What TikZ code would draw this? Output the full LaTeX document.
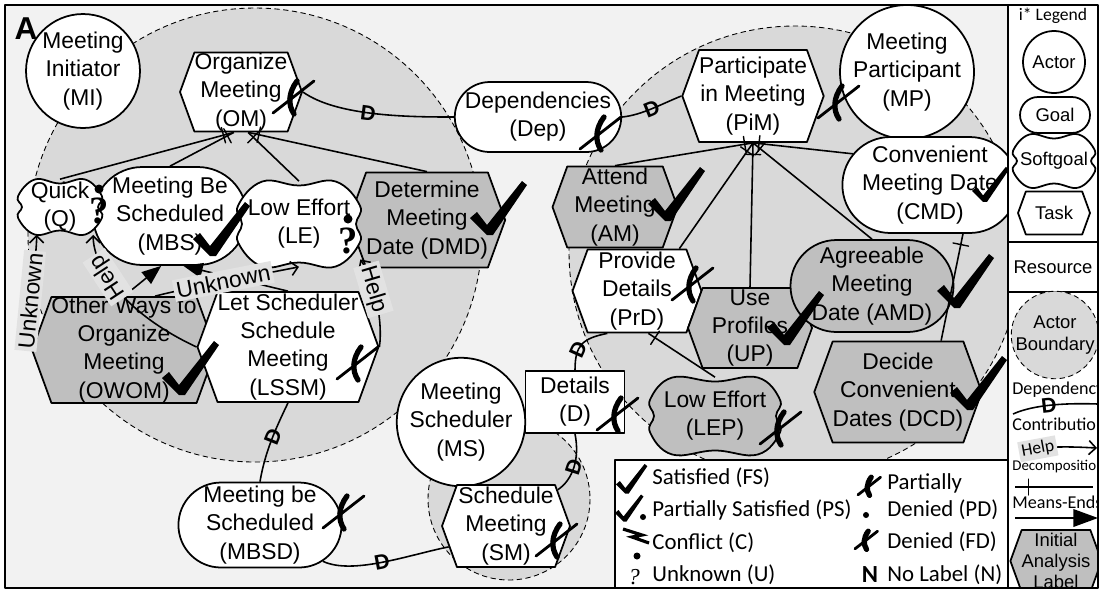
\documentclass[tikz,border=0pt]{standalone}
\usepackage{fontspec}
\setmainfont{Liberation Sans}
\newfontfamily\legfont{Carlito}
\newfontfamily\qfont{Liberation Serif}
\usetikzlibrary{positioning,arrows.meta,calc,shapes.misc,shapes.symbols}
\definecolor{panel}{HTML}{F2F2F2}
\definecolor{bound}{HTML}{D9D9D9}
\definecolor{shade}{HTML}{BFBFBF}
\definecolor{lblbg}{HTML}{E2E2E2}
\newcommand{\sgoal}[8]{%
  \draw[line width=1pt, fill=#1] plot[smooth cycle, tension=0.7] coordinates {
    ({#3-#5/2},{#4-#6/2+#6/4+3}) ({#3-#5/2+#6/4+3},{#4-#6/2}) (#3,{#4-#6/2+4})
    ({#3+#5/2-#6/4-3},{#4-#6/2}) ({#3+#5/2},{#4-#6/2+#6/4+3}) ({#3+#5/2-4},#4)
    ({#3+#5/2},{#4+#6/2-#6/4-3}) ({#3+#5/2-#6/4-3},{#4+#6/2}) (#3,{#4+#6/2-4})
    ({#3-#5/2+#6/4+3},{#4+#6/2}) ({#3-#5/2},{#4+#6/2-#6/4-3}) ({#3-#5/2+4},#4)};
  \node[minimum width={#5*0.02cm}, minimum height={#6*0.02cm}, font={#7}] (#2) at (#3,#4) {#8};}
\begin{document}
\begin{tikzpicture}[x=0.02cm, y=-0.02cm, line join=round,
  every node/.style={align=center, inner sep=1pt, font=\fontsize{13}{16}\selectfont},
  actor/.style={circle, draw, line width=1pt, fill=white, inner sep=0pt},
  goal/.style={rounded rectangle, draw, line width=1pt, fill=white, inner sep=0pt},
  task/.style={signal, signal to=west and east, signal pointer angle=140, draw, line width=1pt, fill=white, inner sep=0pt},
  resource/.style={rectangle, draw, line width=1pt, fill=white},
  bnd/.style={draw, fill=bound, line width=0.5pt, dash pattern=on 3pt off 2pt},
  link/.style={line width=0.9pt},
  dmark/.style={sloped, inner sep=0pt, font=\bfseries\fontsize{12}{12}\selectfont},
  contrib/.style={link, -{Straight Barb[length=4pt,width=8pt]}},
  meansend/.style={link, -{Triangle[length=11pt,width=8.5pt]}},
  linklbl/.style={sloped, fill=lblbg, inner sep=1.5pt},
  dtick/.style={sloped, draw, inner sep=0pt, minimum width=0pt, minimum height=9pt, line width=0.8pt},
  legtext/.style={anchor=west, inner sep=0pt, font=\legfont\fontsize{13}{15}\selectfont},
  colname/.style={anchor=west, inner sep=0pt, font=\legfont\fontsize{10.3}{12}\selectfont},
  colshape/.style={font=\fontsize{10.5}{12.5}\selectfont},
  sat/.pic={\fill (-20,-14) -- (-13,-20) -- (-3,-7) -- (32,-51) -- (37,-47) -- (3,3) -- (-3,3) -- cycle;},
  den/.pic={\draw[line width=1.6pt, line cap=round] (-20,16) -- (21,-16);
    \draw[line width=3pt, line cap=round] (4,-16) .. controls (-5,-4) and (-5,8) .. (1,17);},
  unk/.pic={\fill (0,-12) circle (4.5);
    \node[inner sep=0pt, font=\qfont\bfseries\fontsize{22}{22}\selectfont] at (0,10) {?};},
  confl/.pic={\draw[line width=1.8pt, line join=miter] (-13,-7) -- (6,-1) -- (-4,1) -- (13,7);}
]
\useasboundingbox (0,0) rectangle (1101,593);
\fill[panel] (5,5) rectangle (1008,588);
\begin{scope}
  \clip (5,5) rectangle (1008,588);
  \draw[bnd] (255,235) circle (227);
  \draw[bnd] (795,252) circle (226);
  \draw[bnd] (509,499) circle (81);
\end{scope}
\node[font=\bfseries\fontsize{18}{18}\selectfont] (lblA) at (26,29) {A};

\node[actor, minimum size=2.28cm] (MI) at (83,71) {Meeting\\Initiator\\(MI)};
\node[task, minimum width=2.44cm, minimum height=1.58cm] (OM) at (241,92) {Organize\\Meeting\\(OM)};
\node[goal, minimum width=2.8cm, minimum height=1.96cm] (MBS) at (170,216) {Meeting Be\\Scheduled\\(MBS)};
\sgoal{white}{Q}{60}{207}{84}{55}{\fontsize{13}{16}\selectfont}{Quick\\(Q)}
\node[task, fill=shade, minimum width=2.74cm, minimum height=1.9cm] (DMD) at (427,220) {Determine\\Meeting\\Date (DMD)};
\sgoal{white}{LE}{299}{224}{122}{85}{\fontsize{13}{16}\selectfont}{Low Effort\\(LE)}
\node[task, fill=shade, minimum width=3.24cm, minimum height=2.12cm] (OWOM) at (124,350) {Other Ways to\\Organize\\Meeting\\(OWOM)};
\node[task, minimum width=3.42cm, minimum height=2.2cm] (LSSM) at (288,347) {Let Scheduler\\Schedule\\Meeting\\(LSSM)};
\node[goal, minimum width=2.72cm, minimum height=1.7cm] (MBSD) at (260,525) {Meeting be\\Scheduled\\(MBSD)};
\node[goal, minimum width=3.26cm, minimum height=1.4cm] (Dep) at (538,117) {Dependencies\\(Dep)};
\node[task, minimum width=2.8cm, minimum height=1.84cm] (PiM) at (753,96) {Participate\\in Meeting\\(PiM)};
\node[actor, minimum size=2.68cm] (MP) at (907,72) {Meeting\\Participant\\(MP)};
\node[goal, minimum width=3.12cm, minimum height=1.92cm] (CMD) at (930,185) {Convenient\\Meeting Date\\(CMD)};
\node[task, fill=shade, minimum width=2.5cm, minimum height=1.62cm] (AM) at (615,207) {Attend\\Meeting\\(AM)};
\node[task, minimum width=2.58cm, minimum height=1.66cm] (PrD) at (637,291) {Provide\\Details\\(PrD)};
\node[task, fill=shade, minimum width=2.48cm, minimum height=1.6cm] (UP) at (750,328) {Use\\Profiles\\(UP)};
\node[goal, fill=shade, minimum width=2.9cm, minimum height=1.84cm] (AMD) at (872,286) {Agreeable\\Meeting\\Date (AMD)};
\node[task, fill=shade, minimum width=3.06cm, minimum height=2.02cm] (DCD) at (898,392) {Decide\\Convenient\\Dates (DCD)};
\node[resource, minimum width=1.98cm, minimum height=1.24cm] (D) at (575,402) {Details\\(D)};
\sgoal{shade}{LEP}{715}{416}{130}{77}{\fontsize{13}{16}\selectfont}{Low Effort\\(LEP)}
\node[actor, minimum size=2.48cm] (MS) at (461,422) {Meeting\\Scheduler\\(MS)};
\node[task, minimum width=2.56cm, minimum height=1.64cm] (SM) at (506,526) {Schedule\\Meeting\\(SM)};

\draw[link] (OM.east) .. controls +(35,25) and +(-40,0) .. (Dep.west) node[dmark, pos=0.45] {D};
\draw[link] (Dep.east) .. controls +(20,-2) and +(-20,8) .. (PiM.west) node[dmark, pos=0.5] {D};
\draw[link] (LSSM.south) .. controls +(-12,25) and +(5,-30) .. (MBSD.north) node[dmark, pos=0.45] {D};
\draw[link] (MBSD.-30) .. controls +(30,14) and +(-40,8) .. (SM.-160) node[dmark, pos=0.5] {D};
\draw[link] (SM.35) .. controls +(15,-10) and +(5,25) .. (D.south) node[dmark, pos=0.5] {D};
\draw[link] (D.north) .. controls +(0,-25) and +(-25,5) .. (PrD.-125) node[dmark, pos=0.35] {D};

\draw[link] (OM.-100) -- (Q.north) node[dtick, pos=0.06] {};
\draw[link] (OM.-100) -- (MBS.north) node[dtick, pos=0.1] {};
\draw[link] (OM.-80) -- (LE.north) node[dtick, pos=0.1] {};
\draw[link] (OM.-80) -- (DMD.north) node[dtick, pos=0.06] {};
\draw[link] (PiM.south) -- (AM.north) node[dtick, pos=0.06] {};
\draw[link] (PiM.south) -- (PrD.45) node[dtick, pos=0.08] {};
\draw[link] (PiM.south) -- (UP.north) node[dtick, pos=0.08] {};
\draw[link] (PiM.south) -- (AMD.north) node[dtick, pos=0.06] {};
\draw[link] (PiM.south) -- (CMD.158) node[dtick, pos=0.06] {};
\draw[link] (PrD.-75) -- (LEP.north) node[dtick, pos=0.1] {};
\draw[link] (CMD.-56) -- (DCD.50) node[dtick, pos=0.1] {};

\draw[meansend] (OWOM.north) -- (MBS.-100);
\draw[meansend] (LSSM.north) -- (MBS.-75);

\draw[contrib] (OWOM.west) .. controls +(-8,-25) and +(0,30) .. (Q.-130) node[linklbl, pos=0.45] {Unknown};
\draw[contrib] (LSSM.west) .. controls +(-75,-35) and +(0,30) .. (Q.-40) node[linklbl, pos=0.6, allow upside down] {Help};
\draw[contrib] (OWOM.60) .. controls +(30,-8) and +(-40,8) .. (LE.south) node[linklbl, pos=0.5] {Unknown};
\draw[contrib] (LSSM.east) .. controls +(4,-30) and +(12,18) .. (LE.-30) node[linklbl, pos=0.6] {Help};

\pic at (293,97) {den};
\pic at (99,201) {unk};
\pic at (213,253) {sat};
\pic at (348,231) {unk};
\pic at (490,232) {sat};
\pic at (182,392) {sat};
\pic at (357,363) {den};
\pic at (343,512) {den};
\pic at (600,133) {den};
\pic at (838,102) {den};
\pic[scale=0.65] at (985,200) {sat};
\pic at (668,218) {sat};
\pic at (692,284) {den};
\pic at (787,342) {sat};
\pic at (957,305) {sat};
\pic at (970,407) {sat};
\pic at (617,414) {den};
\pic at (780,428) {den};
\pic at (556,540) {den};

\draw[line width=1pt, fill=white] (615,460) rectangle (1008,588);
\pic[scale=0.55] at (627,492) {sat};
\node[legtext] (lFS) at (652,478) {Satisfied (FS)};
\pic[scale=0.5] at (625,520) {sat};
\fill (643,517) circle (3);
\node[legtext] (lPS) at (652,510) {Partially Satisfied (PS)};
\pic at (636,536) {confl};
\fill (637,556) circle (3.5);
\node[legtext] (lC) at (652,543) {Conflict (C)};
\node[inner sep=0pt, font=\qfont\itshape\fontsize{13}{13}\selectfont] (lUq) at (634,577) {?};
\node[legtext] (lU) at (652,575) {Unknown (U)};
\pic[scale=0.55] at (869,486) {den};
\fill (866,515) circle (3);
\node[legtext] (lPD1) at (887,483) {Partially};
\node[legtext] (lPD2) at (887,510) {Denied (PD)};
\pic[scale=0.55] at (866,540) {den};
\node[legtext] (lFD) at (887,542) {Denied (FD)};
\node[inner sep=0pt, font=\legfont\bfseries\fontsize{14}{14}\selectfont] (lNn) at (870,575) {N};
\node[legtext] (lN) at (887,575) {No Label (N)};

\begin{scope}
  \clip (1008,5) rectangle (1098,588);
  \fill[white] (1008,5) rectangle (1098,588);
  \node[inner sep=0pt, font=\legfont\fontsize{10}{12}\selectfont] (lgtitle) at (1053,16) {i* Legend};
  \node[actor, colshape, minimum size=1.24cm] (lgactor) at (1054,62) {Actor};
  \node[goal, colshape, minimum width=1.4cm, minimum height=0.72cm] (lggoal) at (1055,115) {Goal};
  \sgoal{white}{lgsoft}{1054}{161}{82}{53}{\fontsize{10.5}{12.5}\selectfont}{Softgoal}
  \node[task, colshape, minimum width=1.44cm, minimum height=0.86cm] (lgtask) at (1054,213) {Task};
  \node[resource, colshape, minimum width=1.8cm, minimum height=1cm] (lgres) at (1053,267) {Resource};
  \node[circle, bnd, colshape, minimum size=1.68cm, inner sep=0pt] (lgbnd) at (1055,335) {Actor\\Boundary};
  \node[colname] (lgdep) at (1012,390) {Dependency};
  \coordinate (lgd1) at (1013,414);
  \coordinate (lgd2) at (1098,404);
  \draw[link] (lgd1) .. controls (1035,404) and (1070,403) .. (lgd2) node[dmark, pos=0.45] {D};
  \node[colname] (lgcon) at (1012,424) {Contribution};
  \coordinate (lgc1) at (1022,456);
  \coordinate (lgc2) at (1097,448);
  \draw[contrib] (lgc1) .. controls (1030,446) and (1060,446) .. (lgc2) node[linklbl, pos=0.35, font=\legfont\fontsize{10}{12}\selectfont] {Help};
  \node[colname, font=\legfont\fontsize{8.5}{10}\selectfont] (lgdec) at (1012,467) {Decomposition};
  \coordinate (lgk1) at (1015,487);
  \coordinate (lgk2) at (1093,487);
  \draw[link] (lgk1) -- (lgk2) node[dtick, pos=0.17] {};
  \node[colname] (lgme) at (1012,502) {Means-Ends};
  \coordinate (lgm1) at (1015,518);
  \coordinate (lgm2) at (1098,518);
  \draw[link, -{Triangle[length=14pt,width=10pt]}] (lgm1) -- (lgm2);
  \node[task, fill=shade, minimum width=1.74cm, minimum height=1.24cm, font=\fontsize{10.5}{12}\selectfont] (lginit) at (1056,561) {Initial\\Analysis\\Label};
\end{scope}
\draw[line width=1.5pt] (5,5) rectangle (1098,588);
\draw[line width=1.2pt] (1008,5) -- (1008,588);
\end{tikzpicture}
\end{document}
